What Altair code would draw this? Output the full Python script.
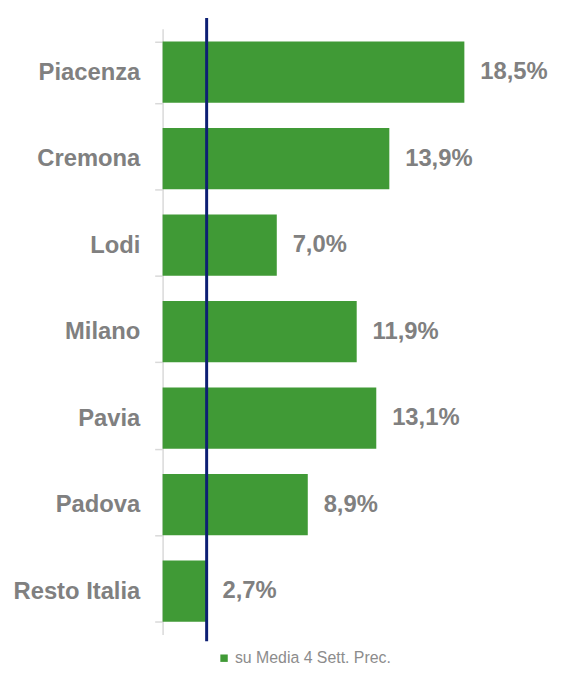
import altair as alt
import pandas as pd

categories = ["Piacenza", "Cremona", "Lodi", "Milano", "Pavia", "Padova", "Resto Italia"]
values = [18.5, 13.9, 7.0, 11.9, 13.1, 8.9, 2.7]
series_name = "su Media 4 Sett. Prec."
reference_value = 2.7

df = pd.DataFrame({
    "cat": categories,
    "val": values,
    "serie": [series_name] * len(categories),
    "lab": [f"{v:.1f}".replace(".", ",") + "%" for v in values],
})
ref = pd.DataFrame({"ref": [reference_value]})

FONT = "Liberation Sans"
GRAY = "#808080"
GREEN = "#409a36"

y_enc = alt.Y("cat:N", sort=categories, title=None,
              scale=alt.Scale(paddingInner=0.29, paddingOuter=0.145),
              axis=alt.Axis(labelFont=FONT, labelFontSize=24, labelFontWeight="bold",
                            labelColor=GRAY, labelPadding=15, tickBand="extent",
                            tickSize=8, tickColor="#d9d9d9", domainColor="#d9d9d9",
                            domainWidth=1.5, tickWidth=1.5))
x_scale = alt.Scale(domain=[0, 24])

bars = alt.Chart(df).mark_bar(color=GREEN).encode(
    y=y_enc,
    x=alt.X("val:Q", scale=x_scale, axis=None),
    color=alt.Color("serie:N", scale=alt.Scale(range=[GREEN]),
                    legend=alt.Legend(title=None, orient="none", legendX=54, legendY=627,
                                      symbolType="square", symbolSize=56,
                                      symbolStrokeWidth=0, labelFont=FONT,
                                      labelFontSize=16, labelColor="#8c8c8c",
                                      labelOffset=3)),
)

texts = alt.Chart(df).mark_text(align="left", baseline="middle", dx=16,
                                font=FONT, fontSize=24, fontWeight="bold",
                                color=GRAY).encode(
    y=alt.Y("cat:N", sort=categories),
    x=alt.X("val:Q", scale=x_scale),
    text="lab:N",
)

rule = alt.Chart(ref).mark_rule(color="#0d1f74", strokeWidth=3).encode(
    x=alt.X("ref:Q", scale=x_scale),
    y=alt.value(-11),
    y2=alt.value(618),
)

chart = alt.layer(bars, texts, rule).properties(
    width=395, height=611,
    autosize=alt.AutoSizeParams(type="none"),
    padding={"left": 156, "top": 18, "right": 8, "bottom": 50},
).configure(background="white").configure_view(stroke=None)

chart.save("out.html", embed_options={"renderer": "svg", "actions": False})
